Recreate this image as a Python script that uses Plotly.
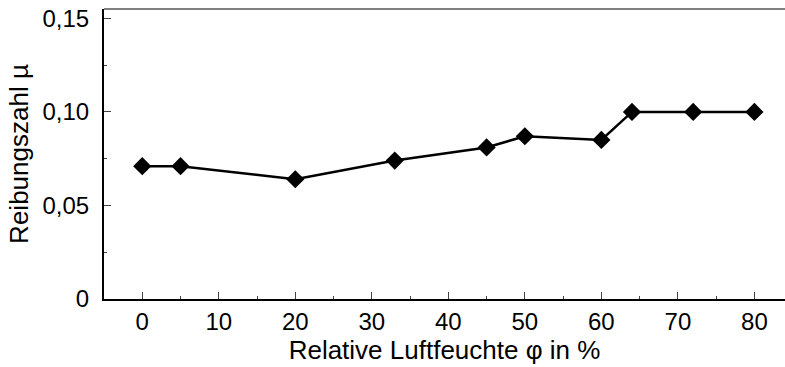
import plotly.graph_objects as go

humidity = [0, 5, 20, 33, 45, 50, 60, 64, 72, 80]
friction = [0.071, 0.071, 0.064, 0.074, 0.081, 0.087, 0.085, 0.100, 0.100, 0.100]
x_ticks = [0, 10, 20, 30, 40, 50, 60, 70, 80]
y_tickvals = [0, 0.05, 0.10, 0.15]
y_ticktext = ["0", "0,05", "0,10", "0,15"]

fig = go.Figure()
fig.add_trace(go.Scatter(
    x=humidity, y=friction, mode="lines+markers",
    line=dict(color="black", width=2.5),
    marker=dict(symbol="diamond", size=14, color="black"),
    showlegend=False, cliponaxis=False,
))

tick_font = dict(family="Liberation Sans, Arial, sans-serif", size=24, color="black")
title_font = dict(family="Liberation Sans, Arial, sans-serif", size=26, color="black")
fig.update_layout(
    width=785, height=367,
    margin=dict(l=104, r=0, t=9, b=68),
    paper_bgcolor="white", plot_bgcolor="white",
    font=tick_font,
    xaxis=dict(
        range=[-5, 84], tickvals=x_ticks, ticktext=[str(v) for v in x_ticks],
        tickfont=tick_font,
        showgrid=False, zeroline=False, showline=True, linecolor="black", linewidth=2,
        ticks="inside", ticklen=7, tickwidth=1, tickcolor="#444",
        minor=dict(ticks="inside", ticklen=3, tickwidth=1, tickcolor="#444", dtick=5, tick0=0),
        ticklabelstandoff=0,
        title=dict(text="Relative Luftfeuchte φ in %", font=title_font, standoff=4),
    ),
    yaxis=dict(
        range=[0, 0.155], tickvals=y_tickvals, ticktext=y_ticktext,
        tickfont=tick_font,
        showgrid=False, zeroline=False, showline=True, linecolor="black", linewidth=2,
        ticks="inside", ticklen=7, tickwidth=1, tickcolor="#444",
        minor=dict(ticks="inside", ticklen=3, tickwidth=1, tickcolor="#444", dtick=0.025, tick0=0),
        ticklabelstandoff=8,
        title=dict(text="Reibungszahl µ", font=title_font, standoff=6),
    ),
    shapes=[dict(type="line", xref="paper", yref="paper", x0=0, x1=1, y0=1, y1=1,
                 line=dict(color="#555", width=1.5))],
)
fig.write_html("out.html")
